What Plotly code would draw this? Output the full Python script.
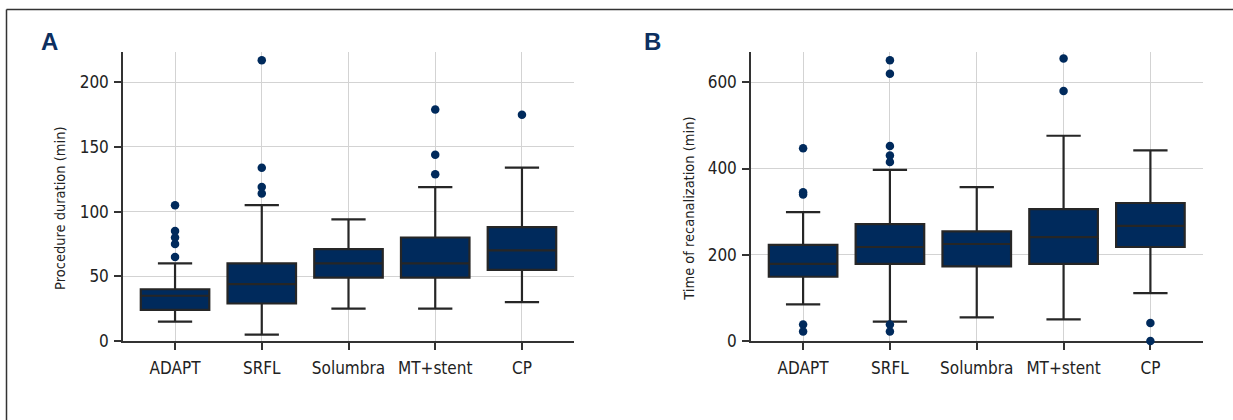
import plotly.graph_objects as go

W, H = 1233, 420

categories = ["ADAPT", "SRFL", "Solumbra", "MT+stent", "CP"]

# Panel A: Procedure duration (min)
a_q1 = [24, 29, 49, 49, 55]
a_median = [35, 44, 60, 60, 70]
a_q3 = [40, 60, 71, 80, 88]
a_lower = [15, 5, 25, 25, 30]
a_upper = [60, 105, 94, 119, 134]
a_out_cat = ["ADAPT"] * 5 + ["SRFL"] * 4 + ["MT+stent"] * 3 + ["CP"]
a_out_val = [65, 75, 80, 85, 105, 114, 119, 134, 217, 129, 144, 179, 175]

# Panel B: Time of recanalization (min)
b_q1 = [149, 179, 173, 179, 218]
b_median = [179, 218, 225, 241, 267]
b_q3 = [223, 271, 254, 306, 320]
b_lower = [85, 45, 55, 50, 111]
b_upper = [299, 397, 357, 476, 442]
b_out_cat = ["ADAPT"] * 5 + ["SRFL"] * 7 + ["MT+stent"] * 2 + ["CP"] * 2
b_out_val = [22, 38, 340, 345, 447,
             22, 38, 415, 430, 452, 620, 651,
             580, 655,
             0, 42]

NAVY = "#002a5c"
DARK = "#262626"
GRID = "#d3d3d3"
FONT = "DejaVu Sans Condensed, Liberation Sans Narrow, sans-serif"

fig = go.Figure()

def add_panel(q1, med, q3, lo, up, ocat, oval, xa, ya):
    fig.add_trace(go.Box(
        x=categories, q1=q1, median=med, q3=q3,
        lowerfence=lo, upperfence=up,
        boxpoints=False, width=0.79, whiskerwidth=0.5,
        fillcolor=NAVY, line=dict(color=DARK, width=2.2),
        xaxis=xa, yaxis=ya, showlegend=False, hoverinfo="y",
    ))
    fig.add_trace(go.Scatter(
        x=ocat, y=oval, mode="markers",
        marker=dict(color=NAVY, size=8.5, line=dict(width=0)),
        cliponaxis=False, xaxis=xa, yaxis=ya, showlegend=False,
    ))

add_panel(a_q1, a_median, a_q3, a_lower, a_upper, a_out_cat, a_out_val, "x", "y")
add_panel(b_q1, b_median, b_q3, b_lower, b_upper, b_out_cat, b_out_val, "x2", "y2")

def px_x(p):
    return p / W

def px_y(p):
    return 1 - p / H

ydom = [px_y(341), px_y(52.3)]

xcommon = dict(
    type="category", categoryorder="array", categoryarray=categories,
    range=[-0.6, 4.6], showline=True, linecolor="#333333", linewidth=1.5,
    ticks="outside", ticklen=7, tickwidth=1.5, tickcolor="#333333",
    showgrid=True, gridcolor=GRID, gridwidth=1, zeroline=False,
    tickfont=dict(family=FONT, size=17, color="#222222"),
    ticklabelstandoff=4,
    layer="below traces", fixedrange=True, automargin=False,
)
ycommon = dict(
    showline=True, linecolor="#333333", linewidth=1.5,
    ticks="outside", ticklen=7, tickwidth=1.5, tickcolor="#333333",
    showgrid=True, gridcolor=GRID, gridwidth=1, zeroline=False,
    tickfont=dict(family=FONT, size=17, color="#222222"),
    ticklabelstandoff=2,
    domain=ydom, fixedrange=True, automargin=False,
)

fig.update_layout(
    width=W, height=H,
    margin=dict(l=0, r=0, t=0, b=0, pad=0),
    paper_bgcolor="white", plot_bgcolor="white",
    font=dict(family=FONT, color="#222222"),
    xaxis=dict(xcommon, domain=[px_x(123), px_x(574)], anchor="y"),
    yaxis=dict(ycommon, range=[0, 223.2], dtick=50, anchor="x"),
    xaxis2=dict(xcommon, domain=[px_x(751), px_x(1202.5)], anchor="y2"),
    yaxis2=dict(ycommon, range=[0, 669.5], dtick=200, anchor="x2"),
    shapes=[
        dict(type="line", xref="paper", yref="paper",
             x0=px_x(6.5), x1=1, y0=px_y(9.5), y1=px_y(9.5),
             line=dict(color="#333333", width=1.5)),
        dict(type="line", xref="paper", yref="paper",
             x0=px_x(6.5), x1=px_x(6.5), y0=0, y1=px_y(9.5),
             line=dict(color="#333333", width=1.5)),
    ],
    annotations=[
        dict(text="<b>A</b>", x=px_x(38.5), y=px_y(42), xref="paper", yref="paper",
             xanchor="left", yanchor="middle", showarrow=False,
             font=dict(family="Liberation Sans, Arial, sans-serif", size=24, color="#0d2f5f")),
        dict(text="<b>B</b>", x=px_x(641.5), y=px_y(42), xref="paper", yref="paper",
             xanchor="left", yanchor="middle", showarrow=False,
             font=dict(family="Liberation Sans, Arial, sans-serif", size=24, color="#0d2f5f")),
        dict(text="Procedure duration (min)", x=px_x(60.5), y=px_y(208.4),
             xref="paper", yref="paper", textangle=-90, showarrow=False,
             xanchor="center", yanchor="middle",
             font=dict(family=FONT, size=14.5, color="#222222")),
        dict(text="Time of recanalization (min)", x=px_x(689), y=px_y(208.7),
             xref="paper", yref="paper", textangle=-90, showarrow=False,
             xanchor="center", yanchor="middle",
             font=dict(family=FONT, size=14.5, color="#222222")),
    ],
)

fig.write_html("out.html")
